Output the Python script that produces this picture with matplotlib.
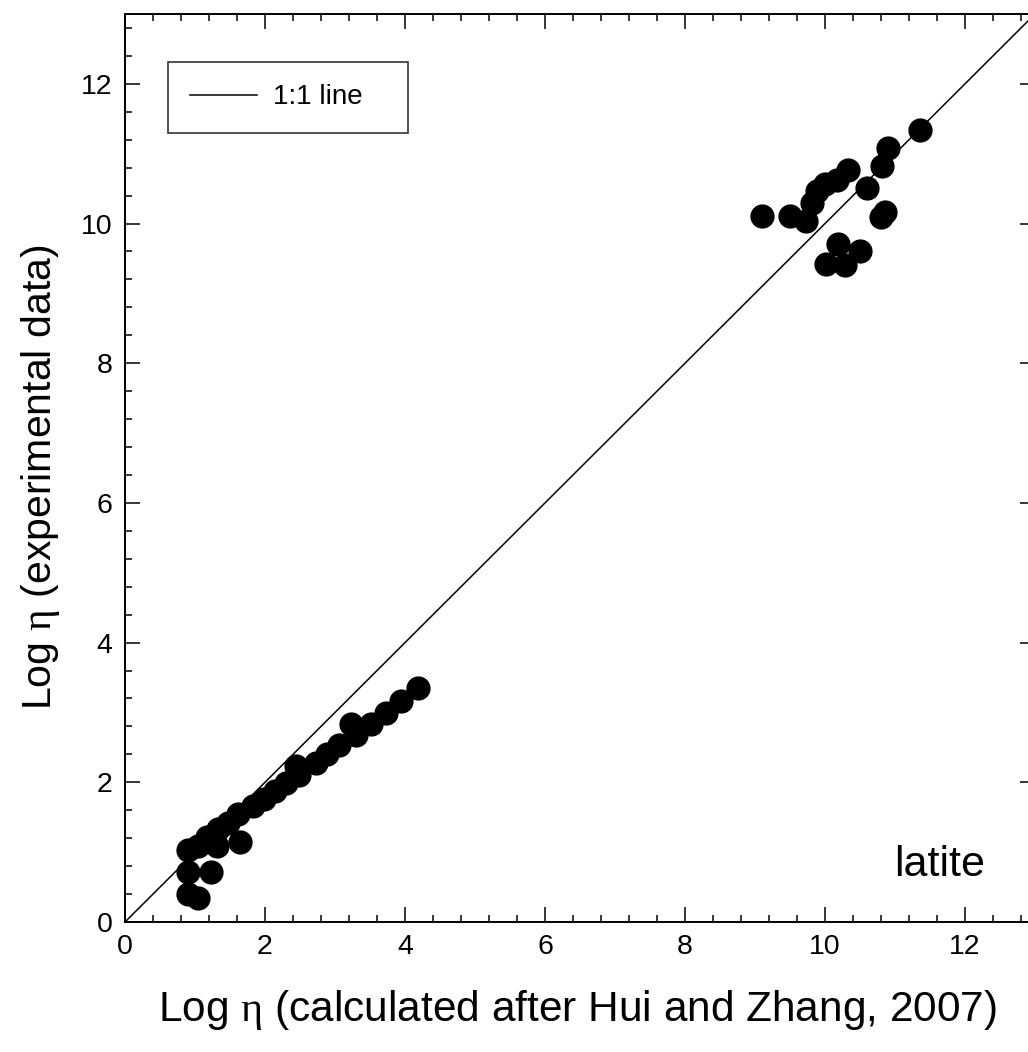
import numpy as np
import matplotlib
matplotlib.use("Agg")
from matplotlib import pyplot as plt
from matplotlib.ticker import MultipleLocator

plt.rcParams['font.family'] = ['Liberation Sans', 'DejaVu Sans']
plt.rcParams['mathtext.fontset'] = 'custom'
plt.rcParams['mathtext.rm'] = 'Liberation Serif'

# low viscosity group
x_low = [0.90, 1.04, 0.90, 1.23, 0.90, 1.04, 1.17, 1.32, 1.33, 1.47, 1.64, 1.61,
         1.83, 1.99, 2.14, 2.30, 2.44, 2.49, 2.73, 2.89, 3.06, 3.23, 3.30, 3.51,
         3.73, 3.94, 4.18]
y_low = [0.40, 0.35, 0.71, 0.72, 1.03, 1.09, 1.21, 1.09, 1.33, 1.42, 1.15, 1.54,
         1.66, 1.76, 1.88, 1.99, 2.23, 2.11, 2.28, 2.40, 2.54, 2.83, 2.68, 2.83,
         2.99, 3.16, 3.35]

# high viscosity group
x_high = [9.10, 9.50, 9.73, 9.81, 9.88, 10.00, 10.17, 10.33, 10.60, 10.82, 10.90,
          10.80, 10.86, 11.36, 10.19, 10.02, 10.29, 10.50]
y_high = [10.11, 10.11, 10.03, 10.29, 10.46, 10.56, 10.63, 10.77, 10.51, 10.82, 11.08,
          10.10, 10.17, 11.34, 9.70, 9.42, 9.41, 9.60]

xlim = (0, 13)
ylim = (0, 13)

fig = plt.figure(figsize=(10.28, 10.52), dpi=100)
ax = fig.add_axes([125/1028, 130/1052, 910/1028, 908/1052])

ax.plot(xlim, ylim, color='black', lw=1.1, label='1:1 line   ', zorder=2)
ax.scatter(x_low + x_high, y_low + y_high, s=270, color='black', zorder=3)

ax.set_xlim(xlim)
ax.set_ylim(ylim)
ax.xaxis.set_major_locator(MultipleLocator(2))
ax.xaxis.set_minor_locator(MultipleLocator(0.4))
ax.yaxis.set_major_locator(MultipleLocator(2))
ax.yaxis.set_minor_locator(MultipleLocator(0.4))
ax.tick_params(which='both', direction='in', top=True, right=True, width=1.1)
ax.tick_params(which='major', length=11, labelsize=20.5, pad=9)
ax.tick_params(which='minor', length=5)
for s in ax.spines.values():
    s.set_linewidth(1.4)

ax.set_xlabel(r'Log $\mathrm{\eta}$ (calculated after Hui and Zhang, 2007)', fontsize=30.5)
ax.set_ylabel(r'Log $\mathrm{\eta}$ (experimental data)', fontsize=29.5)
ax.xaxis.set_label_coords(0.497, -0.097)
ax.xaxis.label.set_va('center')
ax.yaxis.set_label_coords(-0.093, 0.49)
ax.yaxis.label.set_va('center')

ax.text(12.29, 0.82, 'latite', fontsize=31, ha='right', va='center')

leg = ax.legend(loc='upper left', bbox_to_anchor=(0.047, 0.947), fontsize=20,
                frameon=True, fancybox=False, edgecolor='black', borderpad=0.8,
                borderaxespad=0, handlelength=2.4, handletextpad=0.6)
leg.get_frame().set_linewidth(1.2)

plt.savefig('out.png', dpi=100)
